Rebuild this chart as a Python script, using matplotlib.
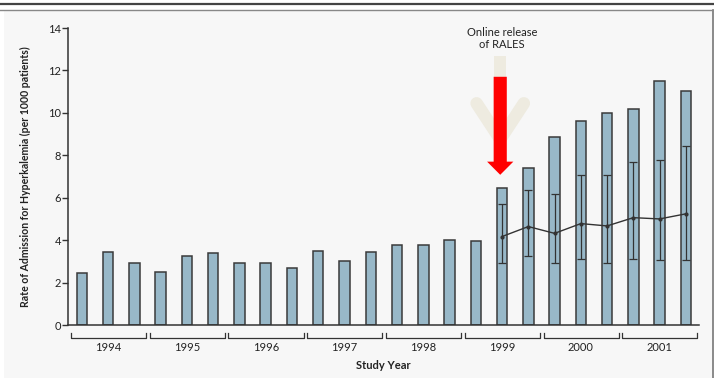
import numpy as np
import matplotlib.pyplot as plt
from matplotlib.patches import Rectangle, FancyArrow
from matplotlib.lines import Line2D

plt.rcParams['font.family'] = ['Lato', 'DejaVu Sans']

# quarterly admission rates, three bars per study year
years = ['1994', '1995', '1996', '1997', '1998', '1999', '2000', '2001']
rates = [2.43, 3.46, 2.94,
         2.50, 3.25, 3.38,
         2.94, 2.94, 2.69,
         3.50, 3.00, 3.46,
         3.77, 3.77, 4.01,
         3.96, 6.46, 7.39,
         8.87, 9.62, 10.00,
         10.20, 11.52, 11.02]

# expected rate with interval, from the RALES release onward
exp_idx = [16, 17, 18, 19, 20, 21, 22, 23]
exp_mid = [4.17, 4.64, 4.32, 4.78, 4.67, 5.06, 5.00, 5.24]
exp_lo = [2.94, 3.25, 2.94, 3.11, 2.94, 3.11, 3.05, 3.05]
exp_hi = [5.71, 6.37, 6.18, 7.09, 7.09, 7.70, 7.77, 8.46]

W, H = 714, 378
fig = plt.figure(figsize=(W / 100, H / 100), dpi=100)
fig.patch.set_facecolor('white')

# gray panel and rules at the top
fig.patches.append(Rectangle((4 / W, 0), 709 / W, (H - 10) / H, transform=fig.transFigure,
                             facecolor='#f7f7f7', edgecolor='none', zorder=-5))
fig.lines.append(Line2D([712.5 / W, 712.5 / W], [0, (H - 10) / H], transform=fig.transFigure,
                        color='#777777', lw=1.2))
fig.lines.append(Line2D([0, 1], [1 - 4 / H, 1 - 4 / H], transform=fig.transFigure,
                        color='#444444', lw=1.6))
fig.lines.append(Line2D([0, 1], [1 - 9.5 / H, 1 - 9.5 / H], transform=fig.transFigure,
                        color='#888888', lw=1.0))

ax = fig.add_axes([68 / W, (H - 325) / H, (699 - 68) / W, (325 - 28) / H])
ax.set_facecolor('none')

x = np.arange(len(rates))
ax.bar(x, rates, width=0.4, color='#98b8c8', edgecolor='#3a3a3a', linewidth=1.1, zorder=2)

mid = np.array(exp_mid)
yerr = [mid - np.array(exp_lo), np.array(exp_hi) - mid]
ax.errorbar(exp_idx, exp_mid, yerr=yerr, color='#333333', lw=1.0, elinewidth=0.9,
            capsize=3, capthick=0.9, marker='o', markersize=2, zorder=3)

ax.set_xlim(-0.53, 23.5)
ax.set_ylim(0, 14)
ax.set_yticks(range(0, 15, 2))
ax.set_xticks([])
for s in ['top', 'right']:
    ax.spines[s].set_visible(False)
ax.spines['left'].set_color('#333333')
ax.spines['bottom'].set_color('#333333')
ax.spines['left'].set_linewidth(1.1)
ax.spines['bottom'].set_linewidth(1.1)
ax.tick_params(axis='y', length=4, width=1, color='#333333', labelsize=8, labelcolor='#222222', pad=1)

# year brackets under the axis
tr = ax.get_xaxis_transform()
for i, yr in enumerate(years):
    x0, x1 = i * 3 - 0.42, i * 3 + 2.44
    ax.plot([x0, x0, x1, x1], [-0.028, -0.043, -0.043, -0.028], transform=tr,
            color='#333333', lw=0.9, clip_on=False)
    ax.text(i * 3 + 1, -0.075, yr, transform=tr, ha='center', va='center',
            fontsize=8, color='#222222')

ax.set_xlabel('Study Year', fontsize=8, fontweight='bold', labelpad=25, color='#222222')
ax.set_ylabel('Rate of Admission for Hyperkalemia (per 1000 patients)', fontsize=7.6,
              fontweight='bold', labelpad=12, color='#222222')

# faded arrow behind the red release marker
beige = '#eeebe0'
ax.add_patch(Rectangle((15.93 - 0.23, 11.5), 0.46, 1.2, facecolor=beige, edgecolor='none', zorder=1))
ax.plot([15.03, 15.93], [10.45, 8.75], color=beige, lw=9, solid_capstyle='round', zorder=1)
ax.plot([16.83, 15.93], [10.45, 8.75], color=beige, lw=9, solid_capstyle='round', zorder=1)
ax.add_patch(FancyArrow(15.93, 11.7, 0, -4.0, width=0.5, head_width=1.0, head_length=0.62,
                        length_includes_head=False, facecolor='#ff0000', edgecolor='none', zorder=4))
ax.text(16.0, 13.5, 'Online release\nof RALES', ha='center', va='center', fontsize=8,
        color='#222222', linespacing=1.1)

fig.savefig('out.png', dpi=100, facecolor=fig.get_facecolor())
